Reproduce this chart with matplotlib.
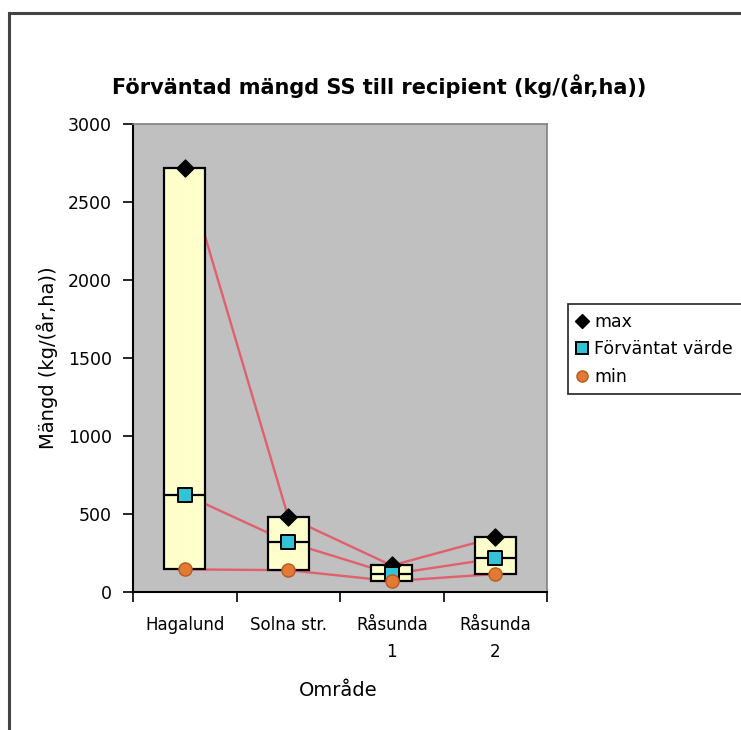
import numpy as np
import matplotlib.pyplot as plt
from matplotlib.lines import Line2D
from matplotlib.patches import Rectangle

plt.rcParams['font.family'] = ['DejaVu Sans']

# values per area, kg/(år,ha)
omraden = ['Hagalund', 'Solna str.', 'Råsunda\n1', 'Råsunda\n2']
maxv = [2720, 480, 170, 350]
forvantat = [625, 320, 115, 215]
minv = [145, 140, 70, 115]

fig = plt.figure(figsize=(7.41, 7.30), dpi=100)
ax = fig.add_axes([133/741, 1 - 592/730, 414/741, 468/730])

x = np.arange(len(omraden)) + 0.5
bw = 0.4
red = '#e0606e'

# lines between the areas, drawn first so the boxes cover them
for s in (maxv, forvantat, minv):
    ax.plot(x, s, color=red, lw=1.7, zorder=2)

# box from min to max, with a line at the expected value
ax.bar(x, np.array(maxv) - np.array(minv), bottom=minv, width=bw,
       color='#ffffcc', edgecolor='black', linewidth=1.6, zorder=3)
ax.hlines(forvantat, x - bw/2, x + bw/2, color='black', lw=1.6, zorder=4)

ax.scatter(x, maxv, marker='D', s=75, color='black', zorder=5)
ax.scatter(x, forvantat, marker='s', s=110, color='#33c3d6',
           edgecolor='black', linewidths=1.4, zorder=6)
ax.scatter(x, minv, marker='o', s=90, color='#e07a35',
           edgecolor='#b85a20', linewidths=1, zorder=7)

ax.set_facecolor('#c0c0c0')
ax.set_xlim(0, 4)
ax.set_ylim(0, 3000)
ax.set_yticks(np.arange(0, 3001, 500))
ax.set_xticks(np.arange(0, 5))
ax.set_xticklabels([])
ax.tick_params(axis='both', direction='out', length=7, width=1.2,
               labelsize=12.5, colors='black', pad=8)
for xi, lab in zip(x, omraden):
    ax.text(xi, -0.052, lab, transform=ax.get_xaxis_transform(),
            ha='center', va='top', fontsize=12, linespacing=1.65)

for side in ('top', 'right'):
    ax.spines[side].set_color('#808080')
    ax.spines[side].set_linewidth(1.2)
for side in ('left', 'bottom'):
    ax.spines[side].set_linewidth(1.5)

fig.text(47/741, 1 - 358/730, 'Mängd (kg/(år,ha))', rotation=90,
         ha='center', va='center', fontsize=14)
fig.text(338/741, 1 - 690/730, 'Område', ha='center', va='center',
         fontsize=14)
fig.text(379/741, 1 - 86/730, 'Förväntad mängd SS till recipient (kg/(år,ha))',
         ha='center', va='center', fontsize=15, fontweight='bold')

handles = [
    Line2D([], [], ls='none', marker='D', ms=7, color='black'),
    Line2D([], [], ls='none', marker='s', ms=9, markerfacecolor='#33c3d6',
           markeredgecolor='black', markeredgewidth=1.4),
    Line2D([], [], ls='none', marker='o', ms=8, markerfacecolor='#e07a35',
           markeredgecolor='#b85a20'),
]
leg_h = 92/730
leg = fig.legend(handles, ['max', 'Förväntat värde', 'min'],
                 loc='upper left', mode='expand',
                 bbox_to_anchor=(568/741, 1 - 304/730 - leg_h, 190/741, leg_h),
                 fontsize=12.5, frameon=True, fancybox=False, handlelength=0.6,
                 handletextpad=0.4, borderpad=0.5, labelspacing=0.55,
                 borderaxespad=0)
leg.get_frame().set_edgecolor('black')
leg.get_frame().set_linewidth(1.3)

# outer chart border, open to the right and bottom
fig.patches.append(Rectangle((9/741, -0.1), 1.2, 0.1 + 1 - 13/730,
                             transform=fig.transFigure, fill=False,
                             edgecolor='#444444', lw=2.2))

fig.savefig('out.png', dpi=100)
